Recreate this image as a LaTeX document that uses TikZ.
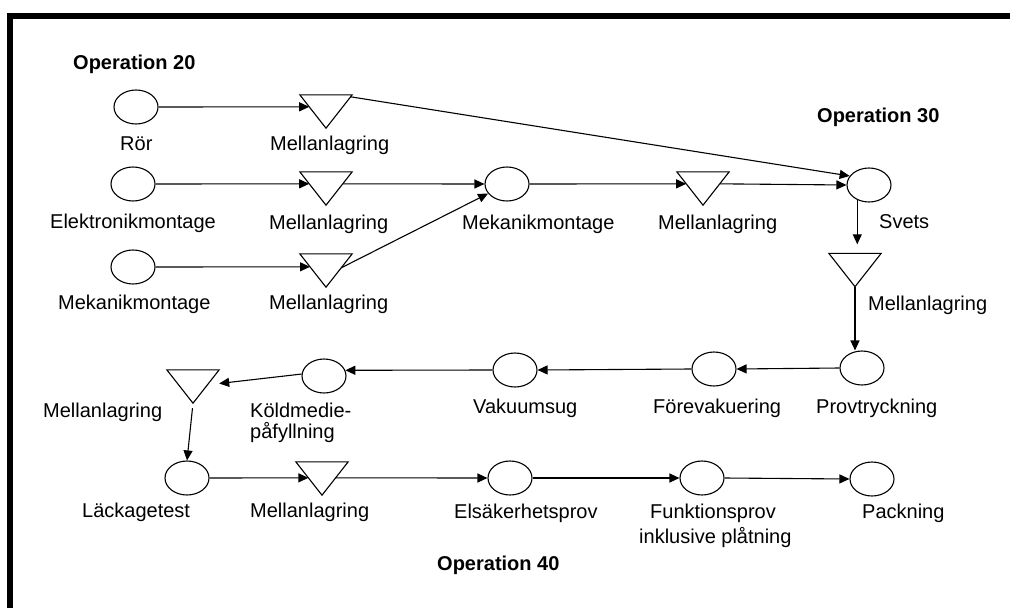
\documentclass[tikz,border=0pt]{standalone}
\usepackage{fontspec}
\setmainfont{Liberation Sans}
\usetikzlibrary{shapes.geometric,arrows.meta,calc}
\begin{document}
\begin{tikzpicture}[x=1pt,y=-1pt,
  proc/.style={ellipse, draw, line width=1.1pt, minimum width=44pt, minimum height=34pt, inner sep=0pt},
  store/.style={rectangle, draw=none, minimum width=52pt, minimum height=33pt, inner sep=0pt},
  tri/.style={line width=1.1pt, line join=miter},
  lbl/.style={anchor=base west, inner sep=0pt, font=\fontsize{20}{24}\selectfont},
  op/.style={anchor=base west, inner sep=0pt, font=\fontsize{20}{24}\selectfont\bfseries},
  arr/.style={-{Triangle[length=10pt,width=9pt]}, line width=1.1pt}]
\useasboundingbox (0,0) rectangle (1010,608);
\fill (7,13) rectangle (1010,19);
\fill (7,13) rectangle (13,608);

% process nodes
\node[proc] (ror)   at (136,107) {};
\node[proc] (elek)  at (133,184) {};
\node[proc] (mekL)  at (133,267) {};
\node[proc] (mekM)  at (507,184) {};
\node[proc] (svets) at (869,185) {};
\node[proc] (prov)  at (862,368) {};
\node[proc] (fore)  at (714,369) {};
\node[proc] (vak)   at (515,370) {};
\node[proc] (kold)  at (324,376) {};
\node[proc] (lack)  at (187,478) {};
\node[proc] (els)   at (510,478) {};
\node[proc] (funk)  at (702,478) {};
\node[proc] (pack)  at (872,479) {};

% storage nodes
\node[store] (m1) at (326,111.5) {};
\node[store] (m2) at (326,188.5) {};
\node[store] (m4) at (326,270.5) {};
\node[store] (m3) at (703,188.5) {};
\node[store] (m5) at (855,270) {};
\node[store] (m6) at (193,386.5) {};
\node[store] (m7) at (322,478.5) {};
\foreach \t in {m1,m2,m3,m4,m5,m6,m7}
  \draw[tri] (\t.north west) -- (\t.north east) -- (\t.south) -- cycle;

% labels
\node[op]  (op20) at (73,69)  {Operation 20};
\node[op]  (op30) at (817,122) {Operation 30};
\node[op]  (op40) at (437,570) {Operation 40};
\node[lbl] at (120,150) {Rör};
\node[lbl] at (270,150) {Mellanlagring};
\node[lbl] at (50,228)  {Elektronikmontage};
\node[lbl] at (269,229) {Mellanlagring};
\node[lbl] at (462,229) {Mekanikmontage};
\node[lbl] at (658,229) {Mellanlagring};
\node[lbl] at (879,228) {Svets};
\node[lbl] at (58,309)  {Mekanikmontage};
\node[lbl] at (269,309) {Mellanlagring};
\node[lbl] at (868,310) {Mellanlagring};
\node[lbl] at (816,413) {Provtryckning};
\node[lbl] at (653,413) {Förevakuering};
\node[lbl] at (473,413) {Vakuumsug};
\node[lbl] at (250,417) {Köldmedie-};
\node[lbl] at (250,438) {påfyllning};
\node[lbl] at (43,417)  {Mellanlagring};
\node[lbl] at (82,517)  {Läckagetest};
\node[lbl] at (250,517) {Mellanlagring};
\node[lbl] at (454,518) {Elsäkerhetsprov};
\node[lbl] at (650,518) {Funktionsprov};
\node[lbl] at (639,543) {inklusive plåtning};
\node[lbl] at (862,518) {Packning};

% connectors
\draw[arr] (ror.east)  -- ($(m1.north west)!0.36!(m1.south)$);
\draw[arr] (elek.east) -- ($(m2.north west)!0.36!(m2.south)$);
\draw[arr] (mekL.east) -- ($(m4.north west)!0.39!(m4.south)$);
\draw[arr] ($(m2.north east)!0.36!(m2.south)$) -- (mekM.west);
\draw[arr] ($(m4.north east)!0.42!(m4.south)$) -- (mekM);
\draw[arr] (mekM.east) -- ($(m3.north west)!0.36!(m3.south)$);
\draw[arr] ($(m3.north east)!0.36!(m3.south)$) -- (svets.west);
\draw[arr] ($(m1.north east)!0.06!(m1.south)$) -- (svets.155);
\draw[arr, shorten >=9pt] (svets.232) -- (svets.232 |- m5.north);
\draw[arr] (m5.south) -- (m5.south |- prov.north);
\draw[arr] (prov.west) -- (fore.east);
\draw[arr] (fore.west) -- (vak.east);
\draw[arr] (vak.west) -- (kold.15);
\draw[arr] (kold.175) -- (m6);
\draw[arr, shorten <=5pt] (m6.south) -- (lack.north);
\draw[arr] (lack.east) -- ($(m7.north west)!0.48!(m7.south)$);
\draw[arr] ($(m7.north east)!0.48!(m7.south)$) -- (els.west);
\draw[arr] (els.east) -- (funk.west);
\draw[arr] (funk.east) -- (pack.west);
\end{tikzpicture}
\end{document}
